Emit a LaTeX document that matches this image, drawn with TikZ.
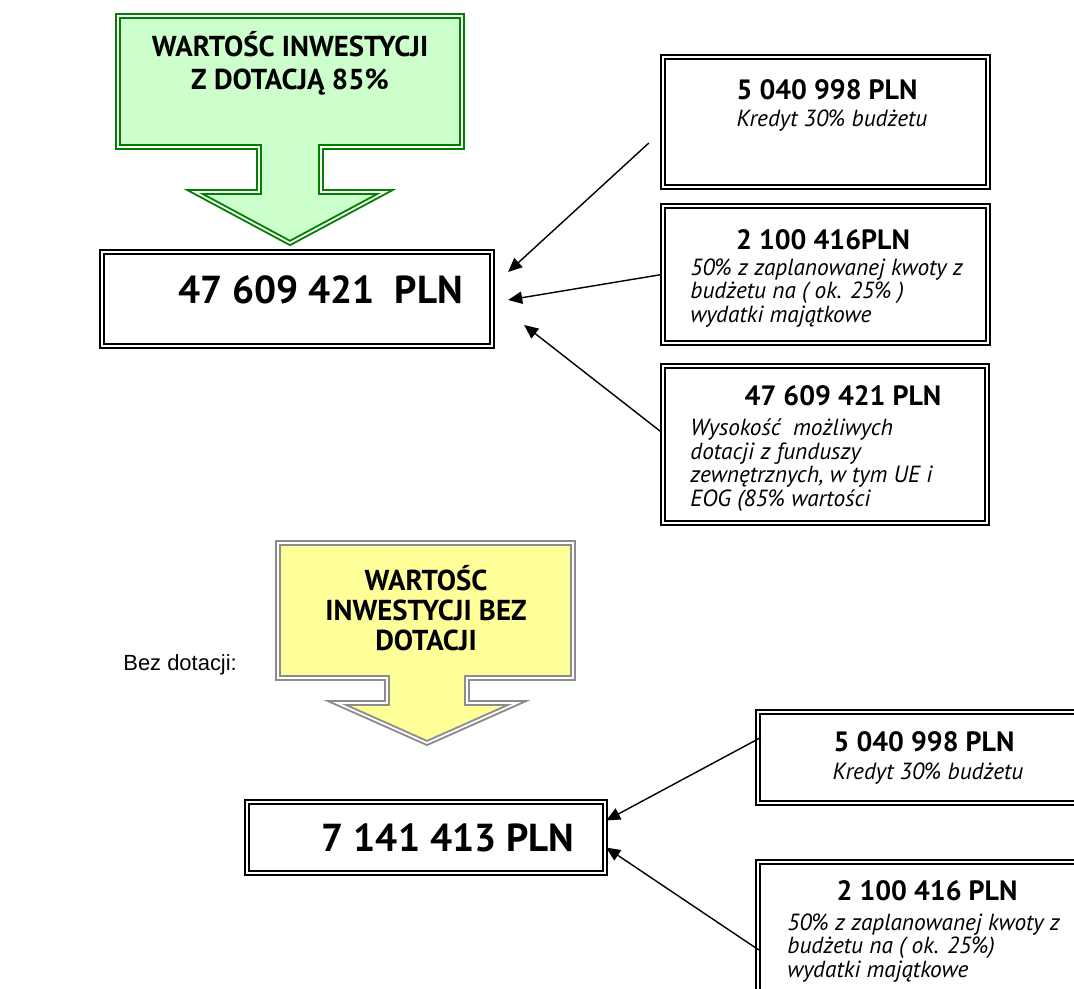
\documentclass[tikz,border=0pt]{standalone}
\usepackage{fontspec}
\setmainfont{PT Sans}
\newfontfamily\arialfont{Liberation Sans}
\usetikzlibrary{fit,calc,arrows.meta}

\definecolor{arrowgreen}{HTML}{008000}
\definecolor{fillgreen}{HTML}{CCFFCC}
\definecolor{fillyellow}{HTML}{FFFF99}
\definecolor{arrowgray}{HTML}{8C8C8C}

\tikzset{
  dbox/.style={draw=black, double=white, double distance=1.3pt, line width=1.3pt, inner sep=0pt},
  conn/.style={-{Triangle[length=8pt,width=7pt]}, line width=0.8pt},
  bigarrow/.style={double=white, double distance=1pt, line width=1.1pt, line join=miter},
  headtxt/.style={font=\bfseries\fontsize{15.9}{19}\selectfont, inner sep=0pt},
  bodytxt/.style={font=\itshape\fontsize{13.3}{13.4}\selectfont, align=left, anchor=west, inner sep=0pt},
  bigtxt/.style={font=\bfseries\fontsize{22.2}{26}\selectfont, inner sep=0pt},
  arrowtxt/.style={align=center, inner sep=0pt},
}

\begin{document}
\begin{tikzpicture}[x=0.02cm, y=-0.02cm]

	\clip (0,0) rectangle (1074,989);

\begin{scope}
	% green arrow
	\draw[bigarrow, draw=arrowgreen, fill=fillgreen] (118,16) --
	(462,16) -- (462,147) -- (321,147) -- (321,192) -- (385,192) --
	(290,243) -- (195,192) -- (259,192) -- (259,147) -- (118,147) -- cycle;
	\node[arrowtxt, font=\bfseries\fontsize{16.4}{18.7}\selectfont] (gtext)
	at (290,63.5) {WARTOŚC INWESTYCJI\\Z DOTACJĄ 85\%};

	\node[dbox, fit={(102,252) (492,346)}] (main) {};
	\node[bigtxt] (maintxt) at (320.5,290) {47 609 421~~PLN};

	\node[dbox, fit={(663,57) (988,187)}] (b1) {};
	\node[headtxt] (b1h) at (827,90) {5 040 998 PLN};
	\node[bodytxt, anchor=center] (b1t) at (832,121) {Kredyt 30\% budżetu};

	\node[dbox, fit={(663,206) (988,343)}] (b2) {};
	\node[headtxt] (b2h) at (823,240) {2 100 416PLN};
	\node[bodytxt] (b2t) at (690,293) {50\% z zaplanowanej kwoty z\\budżetu na ( ok.
	25\% )\\wydatki majątkowe};

	\node[dbox, fit={(663,366) (987,523)}] (b3) {};
	\node[headtxt] (b3h) at (843,396) {47 609 421 PLN};
	\node[bodytxt] (b3t) at (690,465) {Wysokość\ \ możliwych\\dotacji z
	funduszy\\zewnętrznych, w tym UE i\\EOG (85\% wartości};
\end{scope}

\draw[conn] ($(b1.west)+(-13,21)$) -- ($(main.east)+(15,-27)$);
\draw[conn] (b2.west) -- ($(main.east)+(15,1)$);
\draw[conn] ($(b3.west)+(0,-12)$) -- ($(main.east)+(31,26)$);

\begin{scope}
	% yellow arrow
	\draw[bigarrow, draw=arrowgray, fill=fillyellow] (278,543) --
	(573,543) -- (573,678) -- (467,678) -- (467,703) -- (517,703) --
	(427,743) -- (337,703) -- (387,703) -- (387,678) -- (278,678) -- cycle;
	\node[arrowtxt, font=\bfseries\fontsize{16.4}{17}\selectfont] (ytext)
	at (426,608) {WARTOŚC\\INWESTYCJI BEZ\\DOTACJI};

	\node[anchor=west, inner sep=0pt, font=\arialfont\fontsize{12.5}{15}\selectfont]
	(bez) at (123,665) {Bez dotacji:};

	\node[dbox, fit={(247,802) (605,873)}] (low) {};
	\node[bigtxt] (lowtxt) at (448,838) {7 141 413 PLN};

	\node[dbox, fit={(758,712) (1110,803)}] (lb1) {};
	\node[headtxt] (lb1h) at (924,742) {5 040 998 PLN};
	\node[bodytxt, anchor=center] (lb1t) at (928,774) {Kredyt 30\% budżetu};

	\node[dbox, fit={(758,862) (1110,1040)}] (lb2) {};
	\node[headtxt] (lb2h) at (927,891) {2 100 416 PLN};
	\node[bodytxt] (lb2t) at (787,948) {50\% z zaplanowanej kwoty z\\budżetu na (
	ok. 25\%)\\wydatki majątkowe};
\end{scope}

\draw[conn] ($(lb1.west)+(4,-20)$) -- ($(low.east)+(0,-17)$);
\draw[conn] ($(lb2.west)+(2,-1)$) -- ($(low.east)+(0,10)$);

\end{tikzpicture}
\end{document}
